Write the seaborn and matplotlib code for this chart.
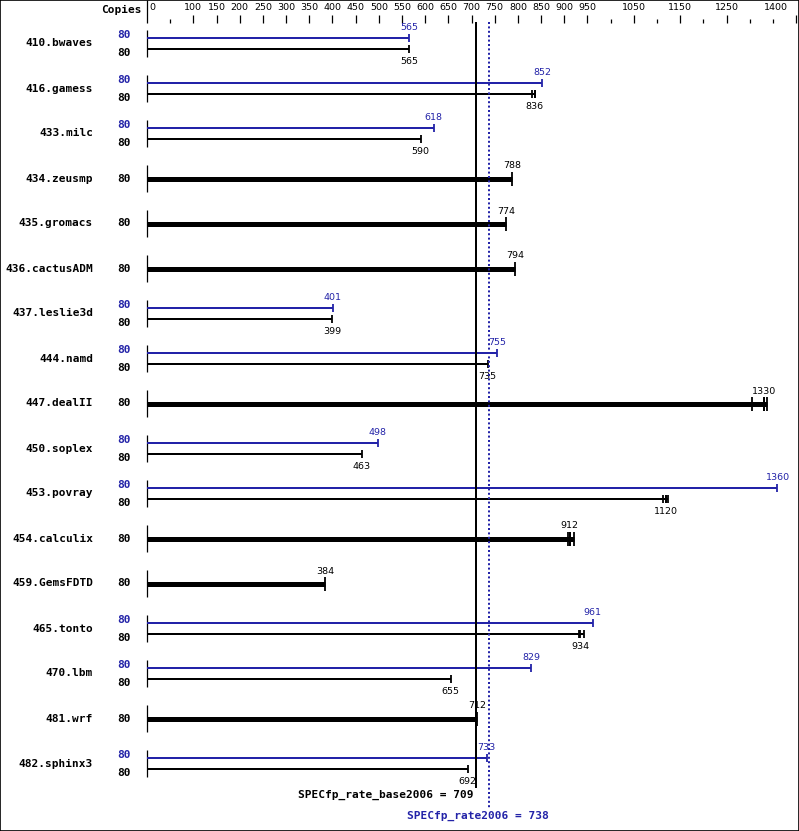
import matplotlib
matplotlib.use("Agg")
import matplotlib.pyplot as plt
import seaborn as sns
import pandas as pd

# SPEC CPU2006 fp rate results
benchmarks = ['410.bwaves', '416.gamess', '433.milc', '434.zeusmp', '435.gromacs',
              '436.cactusADM', '437.leslie3d', '444.namd', '447.dealII', '450.soplex',
              '453.povray', '454.calculix', '459.GemsFDTD', '465.tonto', '470.lbm',
              '481.wrf', '482.sphinx3']
copies = [80] * len(benchmarks)
base = [565, 836, 590, 788, 774, 794, 399, 735, 1330, 463, 1120, 912, 384, 934, 655, 712, 692]
peak = [565, 852, 618, None, None, None, 401, 755, None, 498, 1360, None, None, 961, 829, None, 733]

# individual run ticks where they are spread out
base_runs = {'416.gamess': [830, 836], '447.dealII': [1306, 1330, 1337],
             '453.povray': [1114, 1120, 1124], '454.calculix': [909, 912, 921],
             '465.tonto': [932, 943]}

base_score = 709
peak_score = 738

axis_labels = [0, 100, 150, 200, 250, 300, 350, 400, 450, 500, 550, 600, 650, 700,
               750, 800, 850, 900, 950, 1050, 1150, 1250, 1400]
axis_minor = [50, 1000, 1100, 1200, 1300, 1350]

BLUE = '#2323a8'
W, H = 799, 831
X0, K = 147, 0.4636          # pixel of zero, pixels per unit


def px(p):
    # pixel column -> data value
    return (p - X0) / K


sns.set_style("white")
plt.rcParams['text.color'] = 'black'
fig = plt.figure(figsize=(W / 100, H / 100), dpi=100)
ax = fig.add_axes([0, 0, 1, 1])
ax.set_xlim(px(0), px(W))
ax.set_ylim(H, 0)

lw_thin = 2 * 0.72
lw_thick = 5 * 0.72
mono = dict(family='DejaVu Sans Mono', weight='bold', fontsize=8)
small = dict(family='DejaVu Sans', fontsize=6.8)

# header / scale
ax.text(px(142), 9.5, 'Copies', ha='right', va='center', **mono)
ax.vlines(0, 0, 23, color='black', lw=0.9)
for v in axis_labels:
    if v > 0:
        ax.vlines(v, 15, 23, color='black', lw=0.9)
    if v == 0:
        ax.text(px(149), 7, str(v), ha='left', va='center', **small)
    elif v == axis_labels[-1]:
        ax.text(px(788), 7, str(v), ha='right', va='center', **small)
    else:
        ax.text(v, 7, str(v), ha='center', va='center', **small)
ax.vlines(axis_minor, 19, 23, color='black', lw=0.9)

rows = []
for i, (b, c, bs, pk) in enumerate(zip(benchmarks, copies, base, peak)):
    yc = 43.5 + 45 * i
    ax.text(px(93), yc, b, ha='right', va='center', **mono)
    ax.vlines(0, yc - 13.5, yc + 13.5, color='black', lw=0.9)
    if pk is None:
        ax.text(px(131), yc, str(c), ha='right', va='center', **mono)
        ax.hlines(yc, 0, max(base_runs.get(b, [bs])), color='black', lw=lw_thick)
        ax.text(bs, yc - 12.5, str(bs), ha='center', va='center', **small)
        rows.append(dict(bench=b, kind='base', y=yc, v=bs, h=14))
        for r in base_runs.get(b, []):
            rows.append(dict(bench=b, kind='base', y=yc, v=r, h=14))
    else:
        yb, yp = yc + 5.5, yc - 5.5
        ax.text(px(131), yc - 8.5, str(c), ha='right', va='center', color=BLUE, **mono)
        ax.text(px(131), yc + 9.5, str(c), ha='right', va='center', **mono)
        ax.hlines(yp, 0, pk, color=BLUE, lw=lw_thin)
        ax.hlines(yb, 0, max(base_runs.get(b, [bs])), color='black', lw=lw_thin)
        ax.text(pk, yp - 10.5, str(pk), ha='center', va='center', color=BLUE, **small)
        ax.text(bs, yb + 12.5, str(bs), ha='center', va='center', **small)
        rows.append(dict(bench=b, kind='peak', y=yp, v=pk, h=8))
        rows.append(dict(bench=b, kind='base', y=yb, v=bs, h=8))
        for r in base_runs.get(b, []):
            rows.append(dict(bench=b, kind='base', y=yb, v=r, h=8))

ticks = pd.DataFrame(rows)
for h, sub in ticks.groupby('h'):
    sns.scatterplot(data=sub, x='v', y='y', hue='kind', palette={'base': 'black', 'peak': BLUE},
                    marker='|', s=(h * 0.72) ** 2, linewidth=1.3, legend=False, ax=ax, zorder=3)

# overall scores
ax.vlines(base_score, 22, 788, color='black', lw=2 * 0.72, zorder=4)
ax.vlines(peak_score, 22, 808, color=BLUE, lw=2 * 0.72, linestyles=(0, (1, 1.2)), zorder=5)
ax.text(px(473), 795, f'SPECfp_rate_base2006 = {base_score}', ha='right', va='center', **mono)
ax.text(px(407), 816, f'SPECfp_rate2006 = {peak_score}', ha='left', va='center', color=BLUE, **mono)

ax.set_xlabel('')
ax.set_ylabel('')
ax.axis('off')
fig.patches.append(plt.Rectangle((0.0006, 0.0006), 0.9988, 0.9988, transform=fig.transFigure,
                                 fill=False, edgecolor='black', lw=1.2))
fig.savefig('out.png', dpi=100)
